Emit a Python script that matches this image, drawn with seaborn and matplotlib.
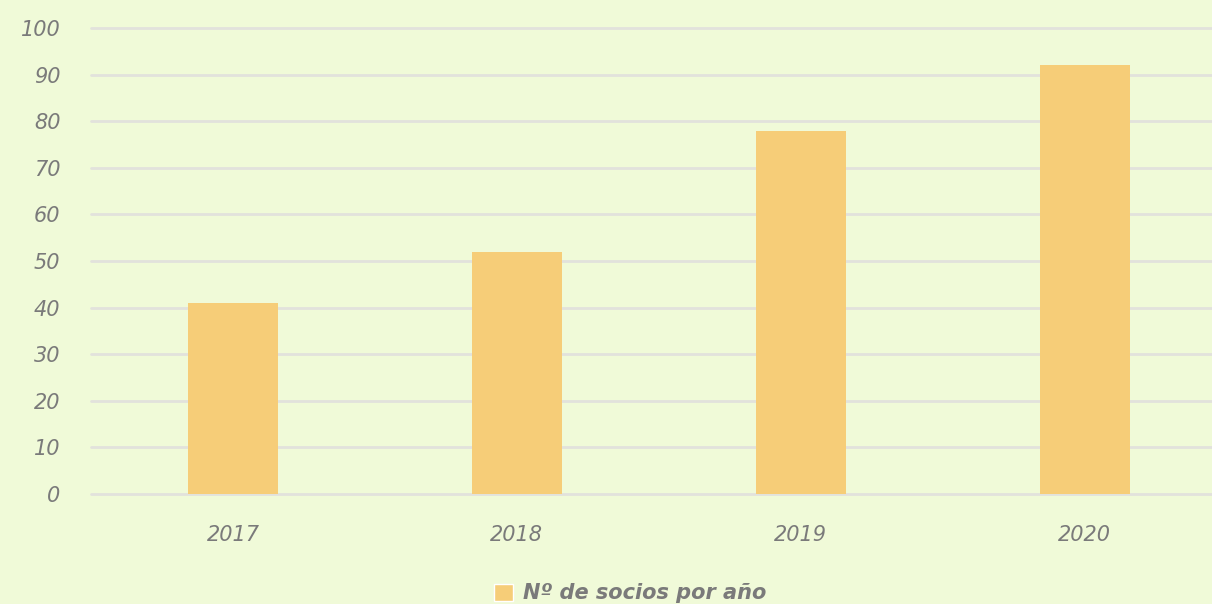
import matplotlib
matplotlib.use('Agg')
import matplotlib.pyplot as plt
import seaborn as sns
import pandas as pd
from matplotlib.patches import Patch

years = ['2017', '2018', '2019', '2020']
socios = [41, 52, 78, 92]
serie = 'Nº de socios por año'

df = pd.DataFrame({'Año': years, 'Socios': socios})

bg = '#F0FAD8'
bar_color = '#F6CD78'
text_color = '#7a7a7a'

sns.set_theme(style='white')
plt.rcParams['font.family'] = ['DejaVu Sans']

fig = plt.figure(figsize=(12.12, 6.04), dpi=100, facecolor=bg)
ax = fig.add_axes([0.0751, 0.182, 0.937, 0.7715], facecolor=bg)

sns.barplot(data=df, x='Año', y='Socios', color=bar_color, width=0.317,
            saturation=1, linewidth=0, edgecolor=bar_color, ax=ax, zorder=3)

ax.set_ylim(0, 100)
ax.set_yticks(range(0, 101, 10))
ax.set_xlim(-0.5, 3.5)
ax.grid(axis='y', color='#e2e2dc', linewidth=2, zorder=0)
for gl in ax.get_ygridlines():
    gl.set_clip_on(False)
ax.set_axisbelow(True)
for s in ax.spines.values():
    s.set_visible(False)
ax.set_xlabel('')
ax.set_ylabel('')
ax.tick_params(axis='y', length=0, pad=22, labelsize=15, labelcolor=text_color)
ax.tick_params(axis='x', length=0, pad=22, labelsize=15, labelcolor=text_color)
for lab in ax.get_yticklabels() + ax.get_xticklabels():
    lab.set_fontstyle('italic')

fig.legend(handles=[Patch(facecolor=bar_color, label=serie)],
           loc='lower center', bbox_to_anchor=(0.52, -0.03), frameon=False,
           handlelength=0.9, handleheight=0.9, handletextpad=0.5,
           prop={'size': 15, 'style': 'italic', 'weight': 'bold'},
           labelcolor=text_color)

fig.savefig('out.png', dpi=100, facecolor=bg)
